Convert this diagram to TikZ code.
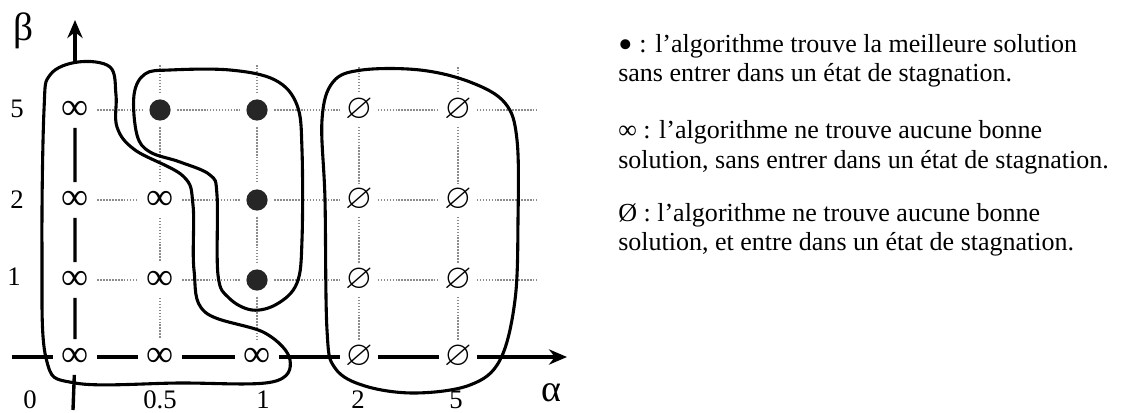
\documentclass[tikz,border=0pt]{standalone}
\usepackage{fontspec}
\setmainfont{Liberation Serif}
\usepackage{amssymb}
\usepackage{graphicx}
\usetikzlibrary{arrows.meta}

\begin{document}
\begin{tikzpicture}[x=0.025cm,y=-0.025cm,
  contour/.style={line width=2.2pt,black},
  axe/.style={line width=2.4pt,black},
  grille/.style={line width=1.1pt,black!45,densely dotted},
  inf/.style={inner sep=0pt,outer sep=0.22cm,font=\fontsize{27}{27}\selectfont},
  vide/.style={inner sep=0pt,outer sep=0.13cm,font=\fontsize{24.88}{25}\selectfont},
  pt/.style={circle,fill=black!85,inner sep=0pt,outer sep=0.17cm,minimum size=0.53cm},
  etiq/.style={inner sep=0pt,font=\fontsize{19}{19}\selectfont},
  legende/.style={anchor=base west,inner sep=0pt,font=\fontsize{18.5}{20}\selectfont}]
\useasboundingbox (0,0) rectangle (1122,413);

\node[inf] (A5) at (75,110) {∞};
\node[pt] (B5) at (160,110) {};
\node[pt] (C5) at (257,110) {};
\node[vide] (D5) at (359,110) {$\varnothing$};
\node[vide] (E5) at (458,110) {$\varnothing$};
\node[inf] (A2) at (75,200) {∞};
\node[inf] (B2) at (160,200) {∞};
\node[pt] (C2) at (257,200) {};
\node[vide] (D2) at (359,200) {$\varnothing$};
\node[vide] (E2) at (458,200) {$\varnothing$};
\node[inf] (A1) at (75,280) {∞};
\node[inf] (B1) at (160,280) {∞};
\node[pt] (C1) at (257,280) {};
\node[vide] (D1) at (359,280) {$\varnothing$};
\node[vide] (E1) at (458,280) {$\varnothing$};
\node[inf] (A0) at (75,357) {∞};
\node[inf] (B0) at (160,357) {∞};
\node[inf] (C0) at (257,357) {∞};
\node[vide] (D0) at (359,357) {$\varnothing$};
\node[vide] (E0) at (458,357) {$\varnothing$};

\coordinate (ytop) at (75,62);
\coordinate (ytip) at (75,20);
\coordinate (ybas) at (73,410);
\coordinate (xdeb) at (12,357);
\coordinate (xtip) at (567,357);
\coordinate (hB) at (160,65);
\coordinate (hC) at (257,65);
\coordinate (hD) at (359,67);
\coordinate (hE) at (458,67);
\coordinate (f5) at (537,110);
\coordinate (f2) at (537,200);
\coordinate (f1) at (537,280);

\draw[grille] (A5) -- (B5) -- (C5) -- (D5) -- (E5) -- (f5);
\draw[grille] (A2) -- (B2) -- (C2) -- (D2) -- (E2) -- (f2);
\draw[grille] (A1) -- (B1) -- (C1) -- (D1) -- (E1) -- (f1);
\draw[grille] (hB) -- (B5) -- (B2) -- (B1) -- (B0);
\draw[grille] (hC) -- (C5) -- (C2) -- (C1) -- (C0);
\draw[grille] (hD) -- (D5) -- (D2) -- (D1) -- (D0);
\draw[grille] (hE) -- (E5) -- (E2) -- (E1) -- (E0);

\draw[axe] (xdeb) -- (A0) -- (B0) -- (C0) -- (D0) -- (E0);
\draw[axe,-{Stealth[length=0.45cm,width=0.38cm]}] (E0) -- (xtip);
\draw[axe] (ybas) -- (A0) -- (A1) -- (A2) -- (A5);
\draw[axe,-{Stealth[length=0.45cm,width=0.38cm]}] (ytop) -- (ytip);

\draw[contour] plot[smooth cycle,tension=0.6] coordinates {(44,110) (50,75) (78,62) (110,67) (116,95) (117,127) (135,150) (183,176) (193,205) (194,270) (205,312) (265,333) (290,360) (272,382) (180,383) (75,383) (46,358) (42,250)};
\draw[contour] plot[smooth cycle,tension=0.6] coordinates {(134,95) (145,74) (170,70) (230,70) (275,80) (297,105) (302,150) (302,240) (297,283) (277,304) (252,310) (229,298) (218,275) (217,195) (210,175) (180,162) (150,152) (137,135)};
\draw[contour] plot[smooth cycle,tension=0.6] coordinates {(322,120) (333,82) (362,70) (420,70) (470,82) (505,103) (517,140) (518,220) (515,300) (500,360) (470,385) (415,393) (365,386) (335,368) (327,330) (325,200)};

\node[etiq,font=\fontsize{28}{28}\selectfont] (beta) at (24,31) {β};
\node[etiq,font=\fontsize{27}{27}\selectfont] (alpha) at (551,393) {α};
\node[etiq] (l5) at (17,109) {5};
\node[etiq] (l2) at (17,200) {2};
\node[etiq] (l1) at (14,277) {1};
\node[etiq] (c0) at (30,400) {0};
\node[etiq] (c05) at (160,400) {0.5};
\node[etiq] (c1) at (263,400) {1};
\node[etiq] (c2) at (358,400) {2};
\node[etiq] (c5) at (456,400) {5};

\node[legende] (leg1) at (618,53) {\raisebox{-0.2em}{\scalebox{1.6}{•}} : l'algorithme trouve la meilleure solution};
\node[legende] (leg2) at (618,82) {sans entrer dans un état de stagnation.};
\node[legende] (leg3) at (618,139) {∞ : l'algorithme ne trouve aucune bonne};
\node[legende] (leg4) at (618,168) {solution, sans entrer dans un état de stagnation.};
\node[legende] (leg5) at (618,221) {Ø : l'algorithme ne trouve aucune bonne};
\node[legende] (leg6) at (618,250) {solution, et entre dans un état de stagnation.};

\end{tikzpicture}
\end{document}
